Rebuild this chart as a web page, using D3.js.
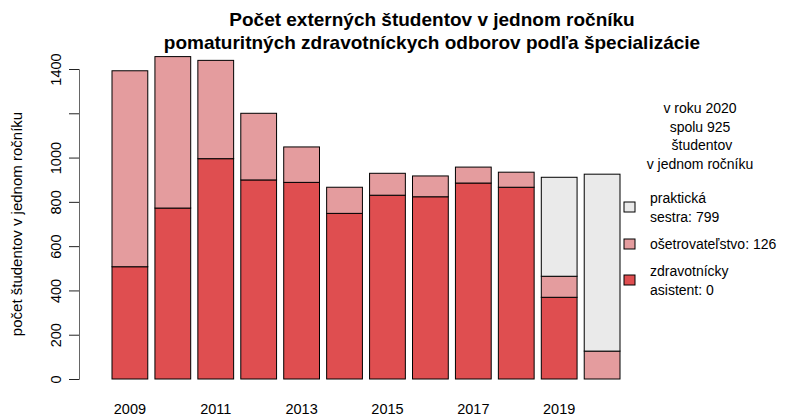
<!DOCTYPE html>
<html>
<head>
<meta charset="utf-8">
<script src="https://cdn.jsdelivr.net/npm/d3@7"></script>
<style>
  body { margin: 0; background: #fff; }
  text { font-family: "Liberation Sans", Arial, sans-serif; fill: #000; }
</style>
</head>
<body>
<script>
// data
var years = [2009, 2010, 2011, 2012, 2013, 2014, 2015, 2016, 2017, 2018, 2019, 2020];
var zdravotnicky = [507, 772, 995, 899, 888, 748, 830, 823, 885, 866, 369, 0];
var osetrovatelstvo = [885, 684, 444, 301, 160, 118, 99, 94, 72, 68, 95, 126];
var prakticka = [0, 0, 0, 0, 0, 0, 0, 0, 0, 0, 447, 799];
var yTicks = [0, 200, 400, 600, 800, 1000, 1200, 1400];
var yTickLabels = ['0', '200', '400', '600', '800', '1000', '', '1400'];
var colors = ['#df4e50', '#e49c9e', '#eaeaea'];

var svg = d3.select('body').append('svg').attr('width', 789).attr('height', 416);

var y = d3.scaleLinear().domain([0, 1400]).range([379, 69]);
// R barplot style: width 1, space 0.2
var x = d3.scaleLinear().domain([0.2, 14.4]).range([112, 620]);

// title
svg.append('text').attr('x', 432).attr('y', 26).attr('text-anchor', 'middle')
  .style('font-size', '19px').style('font-weight', 'bold')
  .text('Počet externých študentov v jednom ročníku');
svg.append('text').attr('x', 432).attr('y', 49).attr('text-anchor', 'middle')
  .style('font-size', '19px').style('font-weight', 'bold')
  .text('pomaturitných zdravotníckych odborov podľa špecializácie');

// stack the three series
var rows = years.map(function(yr, i){
  return {year: yr, i: i, s0: zdravotnicky[i], s1: osetrovatelstvo[i], s2: prakticka[i]};
});
var stack = d3.stack().keys(['s0', 's1', 's2'])(rows);

stack.forEach(function(layer, k){
  svg.append('g').selectAll('rect').data(layer.filter(function(d){ return d[1] - d[0] > 0; }))
    .enter().append('rect')
    .attr('x', function(d){ return x(0.2 + d.data.i * 1.2); })
    .attr('width', function(d){ return x(1.2 + d.data.i * 1.2) - x(0.2 + d.data.i * 1.2); })
    .attr('y', function(d){ return y(d[1]); })
    .attr('height', function(d){ return y(d[0]) - y(d[1]); })
    .attr('fill', colors[k])
    .attr('stroke', '#000')
    .attr('stroke-width', 1);
});

// y axis
var yAxis = d3.axisLeft(y).tickValues(yTicks).tickSize(10)
  .tickFormat(function(d, i){ return yTickLabels[i]; });
var gy = svg.append('g').attr('transform', 'translate(79,0)').call(yAxis);
gy.select('.domain').attr('stroke', '#666');
gy.selectAll('.tick line').attr('stroke', '#222');
gy.selectAll('.tick text')
  .attr('x', null).attr('dy', null)
  .attr('transform', 'translate(-18,0) rotate(-90)')
  .attr('text-anchor', 'middle')
  .style('font-family', '"Liberation Sans", Arial, sans-serif')
  .style('font-size', '14.5px').attr('fill', '#000');

svg.append('text')
  .attr('transform', 'translate(22,224) rotate(-90)')
  .attr('text-anchor', 'middle').style('font-size', '15px')
  .text('počet študentov v jednom ročníku');

// x labels, every other year like R drops overlapping ones
svg.selectAll('.xlab').data(years.filter(function(d, i){ return i % 2 === 0; }))
  .enter().append('text')
  .attr('x', function(d){ var i = years.indexOf(d); return x(0.7 + i * 1.2); })
  .attr('y', 414).attr('text-anchor', 'middle').style('font-size', '14.5px')
  .text(function(d){ return d; });

// legend
var last = years.length - 1;
var total = zdravotnicky[last] + osetrovatelstvo[last] + prakticka[last];
var head = ['v roku ' + years[last], 'spolu ' + total, ' študentov', 'v jednom ročníku'];
svg.selectAll('.lhead').data(head).enter().append('text')
  .attr('x', 700).attr('y', function(d, i){ return 113 + i * 18.5; })
  .attr('text-anchor', 'middle').style('font-size', '14px')
  .style('white-space', 'pre')
  .text(function(d){ return d; });

var legendItems = [
  {lines: ['praktická', 'sestra: ' + prakticka[last]], color: colors[2], y: 207},
  {lines: ['ošetrovateľstvo: ' + osetrovatelstvo[last]], color: colors[1], y: 244},
  {lines: ['zdravotnícky', 'asistent: ' + zdravotnicky[last]], color: colors[0], y: 280}
];
legendItems.forEach(function(it){
  svg.append('rect').attr('x', 624).attr('y', it.y - 5).attr('width', 11).attr('height', 10)
    .attr('fill', it.color).attr('stroke', '#000');
  var n = it.lines.length;
  it.lines.forEach(function(l, j){
    svg.append('text').attr('x', 650)
      .attr('y', it.y + 5 + (j - (n - 1) / 2) * 19)
      .style('font-size', '14px').text(l);
  });
});
</script>
</body>
</html>
